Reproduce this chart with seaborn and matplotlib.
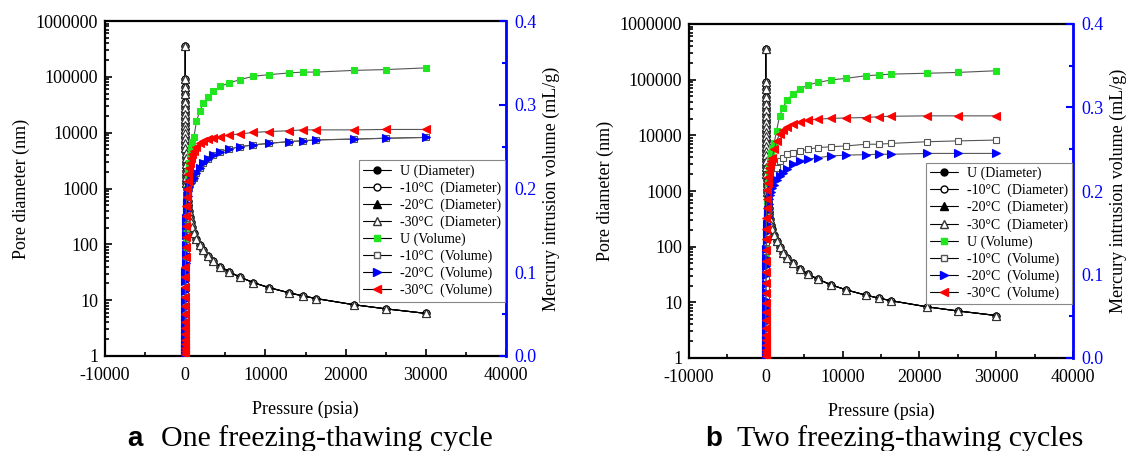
import matplotlib
matplotlib.use('Agg')
import matplotlib.pyplot as plt
from matplotlib import ticker
from matplotlib.lines import Line2D
import seaborn as sns

# pressure steps of the porosimeter run (psia), same for every sample
pressure = [0.5, 1.9, 2.6, 3.6, 4.8, 6.3, 8, 10, 12.5, 15,
            18, 22, 27, 33, 40, 50, 65, 85, 110, 140,
            180, 230, 290, 360, 450, 560, 700, 850,
            1100, 1400, 1800, 2250, 2800, 3500, 4400, 5500, 6800, 8500,
            10500, 13000, 14700, 16300, 21000, 25000, 30000]

# pore diameter (nm), all four samples overlap
pore_diameter = [350000, 92000, 67000, 49000, 36000, 28000, 22000, 17500, 14000, 11700,
                 9700, 8000, 6500, 5300, 4400, 3500, 2700, 2060, 1600, 1250,
                 970, 760, 600, 490, 390, 310, 250, 206,
                 160, 125, 97, 78, 62, 50, 40, 32, 26, 20.6,
                 16.7, 13.5, 11.9, 10.7, 8.3, 7.0, 5.8]

# cumulative intrusion volume (mL/g), panel a: one cycle
vol_a_U = [0.002, 0.006, 0.010, 0.014, 0.019, 0.025, 0.032, 0.040, 0.049, 0.058,
           0.068, 0.079, 0.090, 0.101, 0.112, 0.124, 0.137, 0.150, 0.163, 0.176,
           0.188, 0.200, 0.211, 0.221, 0.231, 0.240, 0.248, 0.255,
           0.262, 0.280, 0.292, 0.302, 0.309, 0.316, 0.322, 0.326, 0.330, 0.334,
           0.336, 0.338, 0.339, 0.339, 0.341, 0.342, 0.344]
# -10 and -20 curves coincide in panel a (squares hidden under the triangles)
vol_a_m10 = [0.002, 0.005, 0.009, 0.013, 0.018, 0.024, 0.031, 0.039, 0.048, 0.057,
             0.067, 0.078, 0.089, 0.100, 0.111, 0.122, 0.133, 0.144, 0.155, 0.165,
             0.174, 0.183, 0.191, 0.197, 0.202, 0.206, 0.209, 0.210,
             0.212, 0.219, 0.224, 0.230, 0.235, 0.240, 0.244, 0.247, 0.250, 0.252,
             0.254, 0.256, 0.257, 0.258, 0.259, 0.260, 0.261]
vol_a_m20 = [0.002, 0.005, 0.009, 0.013, 0.018, 0.024, 0.031, 0.039, 0.048, 0.057,
             0.067, 0.078, 0.089, 0.100, 0.111, 0.122, 0.133, 0.144, 0.155, 0.165,
             0.174, 0.183, 0.191, 0.197, 0.202, 0.206, 0.209, 0.210,
             0.212, 0.219, 0.224, 0.230, 0.235, 0.240, 0.244, 0.247, 0.250, 0.252,
             0.254, 0.256, 0.257, 0.258, 0.259, 0.260, 0.261]
vol_a_m30 = [0.002, 0.006, 0.010, 0.014, 0.019, 0.026, 0.033, 0.041, 0.050, 0.060,
             0.071, 0.082, 0.094, 0.106, 0.118, 0.130, 0.142, 0.155, 0.167, 0.179,
             0.190, 0.200, 0.209, 0.217, 0.224, 0.230, 0.236, 0.241,
             0.245, 0.250, 0.254, 0.257, 0.259, 0.260, 0.262, 0.264, 0.265, 0.267,
             0.268, 0.269, 0.270, 0.270, 0.270, 0.2705, 0.2705]

# panel b: two cycles
vol_b_U = [0.002, 0.006, 0.010, 0.014, 0.019, 0.025, 0.032, 0.040, 0.049, 0.058,
           0.068, 0.079, 0.090, 0.101, 0.112, 0.124, 0.137, 0.150, 0.163, 0.176,
           0.188, 0.200, 0.210, 0.220, 0.229, 0.238, 0.245, 0.251,
           0.258, 0.272, 0.290, 0.300, 0.309, 0.316, 0.322, 0.327, 0.330, 0.333,
           0.335, 0.338, 0.339, 0.340, 0.341, 0.342, 0.344]
vol_b_m10 = [0.002, 0.005, 0.009, 0.013, 0.018, 0.024, 0.031, 0.038, 0.046, 0.055,
             0.064, 0.074, 0.084, 0.095, 0.106, 0.117, 0.128, 0.139, 0.150, 0.160,
             0.170, 0.179, 0.187, 0.194, 0.200, 0.205, 0.209, 0.213,
             0.220, 0.228, 0.236, 0.240, 0.244, 0.246, 0.248, 0.250, 0.252, 0.253,
             0.254, 0.256, 0.256, 0.257, 0.259, 0.260, 0.261]
vol_b_m20 = [0.002, 0.005, 0.008, 0.012, 0.017, 0.022, 0.028, 0.035, 0.043, 0.051,
             0.060, 0.069, 0.079, 0.089, 0.099, 0.110, 0.120, 0.131, 0.141, 0.151,
             0.160, 0.169, 0.177, 0.184, 0.190, 0.195, 0.199, 0.203,
             0.207, 0.213, 0.218, 0.222, 0.226, 0.232, 0.236, 0.238, 0.240, 0.242,
             0.243, 0.2435, 0.244, 0.244, 0.245, 0.245, 0.245]
vol_b_m30 = [0.002, 0.006, 0.010, 0.015, 0.021, 0.028, 0.036, 0.045, 0.055, 0.066,
             0.078, 0.090, 0.103, 0.116, 0.129, 0.142, 0.155, 0.168, 0.180, 0.191,
             0.201, 0.210, 0.217, 0.223, 0.228, 0.232, 0.236, 0.240,
             0.250, 0.260, 0.268, 0.273, 0.277, 0.280, 0.283, 0.285, 0.286, 0.287,
             0.2875, 0.288, 0.289, 0.2895, 0.290, 0.290, 0.290]

diam_labels = ['U (Diameter)', '-10°C  (Diameter)', '-20°C  (Diameter)', '-30°C  (Diameter)']
vol_labels = ['U (Volume)', '-10°C  (Volume)', '-20°C  (Volume)', '-30°C  (Volume)']
y_ticks = [1, 10, 100, 1000, 10000, 100000, 1000000]

GREEN = '#1fe61f'

# (marker, face, edge, size) for each series
diam_styles = [('o', 'black', 'black', 5.0),
               ('o', 'white', 'black', 5.0),
               ('^', 'black', 'black', 5.5),
               ('^', 'white', '#333333', 5.5)]
vol_styles = [('s', GREEN, GREEN, 4.6),
              ('s', 'white', '#555555', 4.6),
              ('>', 'blue', 'blue', 5.2),
              ('<', 'red', 'red', 5.2)]

sns.set_theme(style='ticks')
plt.rcParams['font.family'] = ['Liberation Serif', 'DejaVu Serif']
plt.rcParams['axes.unicode_minus'] = False
for key in ['text.color', 'axes.labelcolor', 'xtick.color', 'ytick.color']:
    plt.rcParams[key] = 'black'


def draw_panel(ax, volumes):
    ax.set_yscale('log')
    for (m, fc, ec, ms) in diam_styles:
        sns.lineplot(x=pressure, y=pore_diameter, ax=ax, color='black', lw=0.8,
                     marker=m, markersize=ms, markerfacecolor=fc,
                     markeredgecolor=ec, markeredgewidth=0.8,
                     estimator=None, sort=False, legend=False)
    ax.set_xlim(-10000, 40000)
    ax.set_ylim(1, 1000000)
    ax.xaxis.set_major_locator(ticker.MultipleLocator(10000))
    ax.xaxis.set_minor_locator(ticker.MultipleLocator(5000))
    ax.yaxis.set_major_locator(ticker.FixedLocator(y_ticks))
    ax.yaxis.set_minor_locator(ticker.LogLocator(base=10, subs=range(2, 10), numticks=20))
    ax.yaxis.set_major_formatter(ticker.FuncFormatter(lambda v, _: '%d' % v))
    ax.yaxis.set_minor_formatter(ticker.NullFormatter())
    ax.tick_params(which='both', direction='in', top=False, right=False,
                   labelsize=13, pad=5, colors='black', width=1.2)
    ax.tick_params(axis='x', which='both', pad=8)
    ax.tick_params(which='major', length=5)
    ax.tick_params(which='minor', length=3)
    ax.set_xlabel('Pressure (psia)', fontsize=13, labelpad=12)
    ax.set_ylabel('Pore diameter (nm)', fontsize=13)

    ax2 = ax.twinx()
    for vol, (m, fc, ec, ms) in zip(volumes, vol_styles):
        sns.lineplot(x=pressure, y=vol, ax=ax2, color='#555555', lw=0.8,
                     marker=m, markersize=ms, markerfacecolor=fc,
                     markeredgecolor=ec, markeredgewidth=0.8,
                     estimator=None, sort=False, legend=False)
    ax2.set_ylim(0, 0.4)
    ax2.yaxis.set_major_locator(ticker.MultipleLocator(0.1))
    ax2.yaxis.set_minor_locator(ticker.MultipleLocator(0.05))
    ax2.yaxis.set_major_formatter(ticker.FormatStrFormatter('%.1f'))
    ax2.tick_params(axis='y', which='both', direction='in', colors='blue',
                    labelsize=13, pad=6, width=1.5)
    ax2.tick_params(axis='y', which='major', length=5)
    ax2.tick_params(axis='y', which='minor', length=3)
    ax2.set_ylabel('Mercury intrusion volume (mL/g)', fontsize=13, color='black')

    for sp in ['left', 'bottom', 'top']:
        ax.spines[sp].set_linewidth(1.6)
        ax.spines[sp].set_color('black')
        ax2.spines[sp].set_visible(False)
    ax.spines['right'].set_visible(False)
    ax2.spines['right'].set_color('blue')
    ax2.spines['right'].set_linewidth(2.0)

    handles = []
    for (m, fc, ec, ms), lab in zip(diam_styles, diam_labels):
        handles.append(Line2D([], [], color='black', lw=0.8, marker=m, markersize=ms,
                              markerfacecolor=fc, markeredgecolor=ec, label=lab))
    for (m, fc, ec, ms), lab in zip(vol_styles, vol_labels):
        handles.append(Line2D([], [], color='black', lw=0.8, marker=m, markersize=ms,
                              markerfacecolor=fc, markeredgecolor=ec, label=lab))
    leg = ax2.legend(handles=handles, loc='upper right', bbox_to_anchor=(0.997, 0.585),
                     fontsize=10, frameon=True, fancybox=False, framealpha=1,
                     edgecolor='#888888', borderpad=0.3, labelspacing=0.26,
                     handlelength=2.0, handletextpad=0.6, borderaxespad=0)
    leg.get_frame().set_linewidth(0.8)
    return ax2


fig = plt.figure(figsize=(11.42, 4.51), dpi=100)
ax_a = fig.add_axes([105 / 1142, 95 / 451, 401 / 1142, 335 / 451])
ax_b = fig.add_axes([689 / 1142, 93 / 451, 384 / 1142, 334 / 451])

draw_panel(ax_a, [vol_a_U, vol_a_m10, vol_a_m20, vol_a_m30])
draw_panel(ax_b, [vol_b_U, vol_b_m10, vol_b_m20, vol_b_m30])

fig.text(127 / 1142, 0.012, 'a', fontfamily='Liberation Sans', fontweight='bold',
         fontsize=20, va='baseline')
fig.text(161 / 1142, 0.012, 'One freezing-thawing cycle', fontsize=21.5, va='baseline')
fig.text(705 / 1142, 0.012, 'b', fontfamily='Liberation Sans', fontweight='bold',
         fontsize=20, va='baseline')
fig.text(737 / 1142, 0.012, 'Two freezing-thawing cycles', fontsize=21.5, va='baseline')

fig.savefig('out.png', dpi=100)
